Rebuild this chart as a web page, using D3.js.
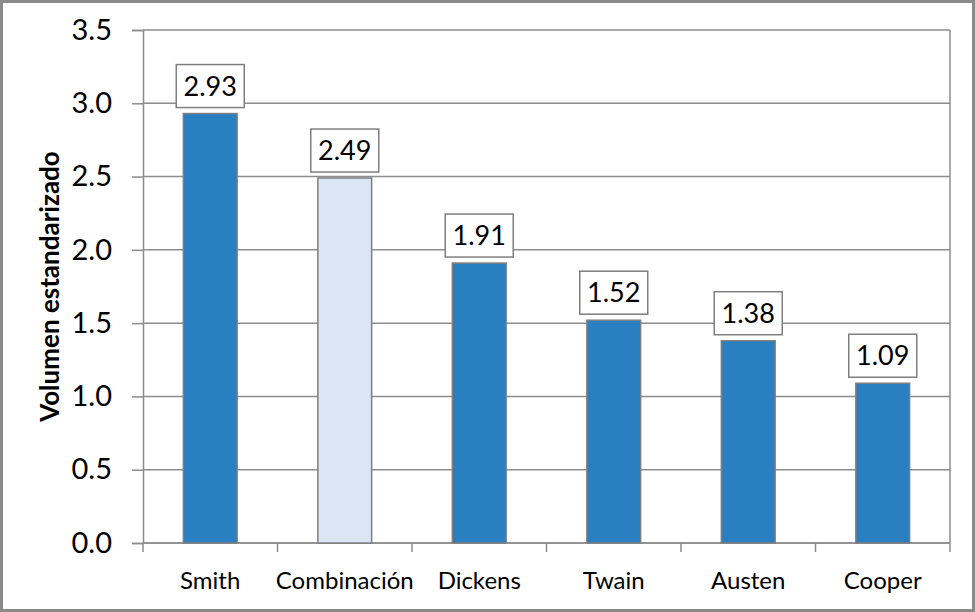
<!DOCTYPE html>
<html lang="es">
<head>
    <meta charset="UTF-8">
    <title>Volumen estandarizado</title>
    <script src="https://cdn.jsdelivr.net/npm/d3@7"></script>
    <style>
        html, body { margin: 0; padding: 0; background: #fff; }
        svg text { font-family: Lato, "Open Sans", sans-serif; fill: #000; }
    </style>
</head>
<body>
    <svg id="chart" width="975" height="612"></svg>

    <script>
        // data
        const authors = ["Smith", "Combinación", "Dickens", "Twain", "Austen", "Cooper"];
        const volumes = [2.93, 2.49, 1.91, 1.52, 1.38, 1.09];
        const highlighted = ["Combinación"];
        const yTicks = [0, 0.5, 1.0, 1.5, 2.0, 2.5, 3.0, 3.5];

        const width = 975, height = 612;
        const margin = { top: 30, right: 25, bottom: 69, left: 143 };

        const svg = d3.select('#chart');

        // outer frame
        svg.append('rect')
            .attr('x', 1.5).attr('y', 1.5)
            .attr('width', width - 3).attr('height', height - 3)
            .attr('fill', '#fff')
            .attr('stroke', '#8a8a8a')
            .attr('stroke-width', 3);

        const x = d3.scaleBand()
            .domain(authors)
            .range([margin.left, width - margin.right])
            .padding(0);

        const y = d3.scaleLinear()
            .domain([0, 3.5])
            .range([height - margin.bottom, margin.top]);

        // gridlines
        svg.append('g')
            .selectAll('line')
            .data(yTicks)
            .enter().append('line')
            .attr('x1', margin.left)
            .attr('x2', width - margin.right)
            .attr('y1', d => y(d))
            .attr('y2', d => y(d))
            .attr('stroke', '#8c8c8c')
            .attr('stroke-width', 1.5);

        // right border of plot area
        svg.append('line')
            .attr('x1', width - margin.right).attr('x2', width - margin.right)
            .attr('y1', y(3.5)).attr('y2', y(0))
            .attr('stroke', '#8c8c8c')
            .attr('stroke-width', 1.5);

        // y axis
        const yAxis = svg.append('g')
            .attr('transform', `translate(${margin.left},0)`)
            .call(d3.axisLeft(y).tickValues(yTicks).tickFormat(d3.format('.1f')).tickSize(11).tickPadding(20));
        yAxis.select('.domain').attr('stroke', '#8c8c8c').attr('stroke-width', 1.5);
        yAxis.selectAll('.tick line').attr('stroke', '#8c8c8c').attr('stroke-width', 1.5);
        yAxis.selectAll('.tick text')
            .style('font-size', '29px')
            .attr('fill', '#000');

        // x axis (ticks at category boundaries)
        const xAxis = svg.append('g')
            .attr('transform', `translate(0,${y(0)})`);
        xAxis.append('line')
            .attr('x1', margin.left).attr('x2', width - margin.right)
            .attr('stroke', '#8c8c8c').attr('stroke-width', 1.5);
        const bounds = authors.map(a => x(a)).concat([x(authors[authors.length - 1]) + x.bandwidth()]);
        xAxis.selectAll('line.tick')
            .data(bounds)
            .enter().append('line')
            .attr('class', 'tick')
            .attr('x1', d => d).attr('x2', d => d)
            .attr('y1', 0).attr('y2', 9)
            .attr('stroke', '#8c8c8c').attr('stroke-width', 1.5);
        xAxis.selectAll('text')
            .data(authors)
            .enter().append('text')
            .attr('x', d => x(d) + x.bandwidth() / 2)
            .attr('y', 46)
            .attr('text-anchor', 'middle')
            .style('font-size', '24px')
            .text(d => d);

        // bars
        const barW = x.bandwidth() * 0.4;
        svg.append('g')
            .selectAll('rect')
            .data(authors)
            .enter().append('rect')
            .attr('x', d => x(d) + (x.bandwidth() - barW) / 2)
            .attr('y', (d, i) => y(volumes[i]))
            .attr('width', barW)
            .attr('height', (d, i) => y(0) - y(volumes[i]))
            .attr('fill', d => highlighted.includes(d) ? '#dae6f3' : '#2a7fc1')
            .attr('stroke', '#7f7f7f')
            .attr('stroke-width', 1.5);

        // value labels
        const boxW = 68, boxH = 43;
        const labels = svg.append('g')
            .selectAll('g')
            .data(authors)
            .enter().append('g')
            .attr('transform', (d, i) => `translate(${x(d) + x.bandwidth() / 2},${y(volumes[i]) - 6 - boxH / 2})`);
        labels.append('rect')
            .attr('x', -boxW / 2).attr('y', -boxH / 2)
            .attr('width', boxW).attr('height', boxH)
            .attr('fill', '#fff')
            .attr('stroke', '#7f7f7f')
            .attr('stroke-width', 1.5);
        labels.append('text')
            .attr('text-anchor', 'middle')
            .attr('dy', '0.36em')
            .style('font-size', '27px')
            .text((d, i) => volumes[i].toFixed(2));

        // y axis title
        svg.append('text')
            .attr('transform', `translate(50,${(y(0) + y(3.5)) / 2}) rotate(-90)`)
            .attr('text-anchor', 'middle')
            .attr('dy', '0.36em')
            .style('font-size', '26px')
            .style('font-weight', 'bold')
            .text('Volumen estandarizado');
    </script>
</body>
</html>
